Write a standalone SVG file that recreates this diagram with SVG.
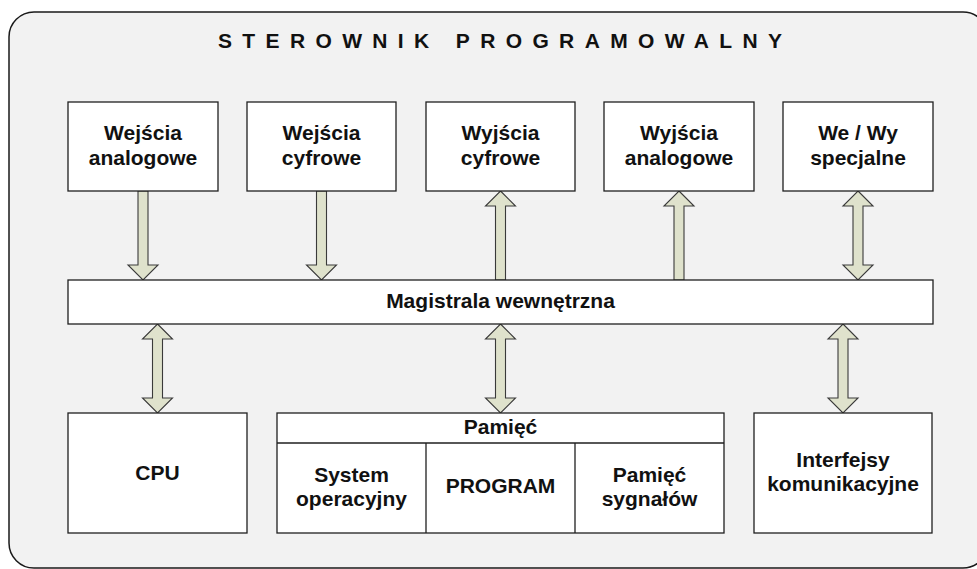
<svg xmlns="http://www.w3.org/2000/svg" width="977" height="569" viewBox="0 0 977 569">
  <style>
    .frame { fill: #f2f2f2; stroke: #1a1a1a; stroke-width: 1.5; }
    .box { fill: #ffffff; stroke: #1f1f1f; stroke-width: 1.3; }
    .arrow { fill: #dfe2cc; stroke: #3a3a3a; stroke-width: 1.1; stroke-linejoin: miter; }
    text { font-family: "Liberation Sans", Arial, sans-serif; font-weight: bold; fill: #111111; }
    .lbl { font-size: 21px; text-anchor: middle; }
    .title { font-size: 21px; }
  </style>

  <!-- outer controller frame -->
  <rect class="frame" x="9" y="12" width="979" height="556" rx="25" ry="25"/>
  <text class="title" x="218" y="48" textLength="564" lengthAdjust="spacing">STEROWNIK PROGRAMOWALNY</text>

  <!-- connectors -->
  <g id="connectors">
    <!-- inputs into the bus -->
    <path class="arrow" d="M138,191 L148,191 L148,265 L158,265 L143,280 L128,265 L138,265 Z"/>
    <path class="arrow" d="M316.5,191 L326.5,191 L326.5,265 L336.5,265 L321.5,280 L306.5,265 L316.5,265 Z"/>
    <!-- outputs from the bus -->
    <path class="arrow" d="M500.5,191 L515.5,206 L505.5,206 L505.5,280 L495.5,280 L495.5,206 L485.5,206 Z"/>
    <path class="arrow" d="M679,191 L694,206 L684,206 L684,280 L674,280 L674,206 L664,206 Z"/>
    <!-- special I/O, bidirectional -->
    <path class="arrow" d="M858,191 L873,206 L863,206 L863,265 L873,265 L858,280 L843,265 L853,265 L853,206 L843,206 Z"/>
    <!-- bus to lower blocks, bidirectional -->
    <path class="arrow" d="M157.5,324 L172.5,339 L162.5,339 L162.5,398 L172.5,398 L157.5,413 L142.5,398 L152.5,398 L152.5,339 L142.5,339 Z"/>
    <path class="arrow" d="M500.5,324 L515.5,339 L505.5,339 L505.5,398 L515.5,398 L500.5,413 L485.5,398 L495.5,398 L495.5,339 L485.5,339 Z"/>
    <path class="arrow" d="M843,324 L858,339 L848,339 L848,398 L858,398 L843,413 L828,398 L838,398 L838,339 L828,339 Z"/>
  </g>

  <!-- top row: I/O modules -->
  <g id="we-analogowe">
    <rect class="box" x="68" y="102" width="150" height="89"/>
    <text class="lbl" x="143" y="140">Wejścia</text>
    <text class="lbl" x="143" y="165">analogowe</text>
  </g>
  <g id="we-cyfrowe">
    <rect class="box" x="247" y="102" width="149" height="89"/>
    <text class="lbl" x="321.5" y="140">Wejścia</text>
    <text class="lbl" x="321.5" y="165">cyfrowe</text>
  </g>
  <g id="wy-cyfrowe">
    <rect class="box" x="426" y="102" width="149" height="89"/>
    <text class="lbl" x="500.5" y="140">Wyjścia</text>
    <text class="lbl" x="500.5" y="165">cyfrowe</text>
  </g>
  <g id="wy-analogowe">
    <rect class="box" x="604" y="102" width="150" height="89"/>
    <text class="lbl" x="679" y="140">Wyjścia</text>
    <text class="lbl" x="679" y="165">analogowe</text>
  </g>
  <g id="we-wy-specjalne">
    <rect class="box" x="783" y="102" width="150" height="89"/>
    <text class="lbl" x="858" y="140">We / Wy</text>
    <text class="lbl" x="858" y="165">specjalne</text>
  </g>

  <!-- internal bus -->
  <g id="magistrala">
    <rect class="box" x="68" y="280" width="865" height="44"/>
    <text class="lbl" x="500.5" y="308">Magistrala wewnętrzna</text>
  </g>

  <!-- bottom row -->
  <g id="cpu">
    <rect class="box" x="68" y="413" width="179" height="120"/>
    <text class="lbl" x="157.5" y="480">CPU</text>
  </g>
  <g id="pamiec">
    <rect class="box" x="277" y="413" width="447" height="120"/>
    <line class="box" x1="277" y1="443" x2="724" y2="443"/>
    <line class="box" x1="426" y1="443" x2="426" y2="533"/>
    <line class="box" x1="575" y1="443" x2="575" y2="533"/>
    <text class="lbl" x="500.5" y="434">Pamięć</text>
    <text class="lbl" x="351.5" y="482">System</text>
    <text class="lbl" x="351.5" y="506">operacyjny</text>
    <text class="lbl" x="500.5" y="493">PROGRAM</text>
    <text class="lbl" x="649.5" y="482">Pamięć</text>
    <text class="lbl" x="649.5" y="506">sygnałów</text>
  </g>
  <g id="interfejsy">
    <rect class="box" x="754" y="413" width="178" height="120"/>
    <text class="lbl" x="843" y="467">Interfejsy</text>
    <text class="lbl" x="843" y="491">komunikacyjne</text>
  </g>
</svg>
